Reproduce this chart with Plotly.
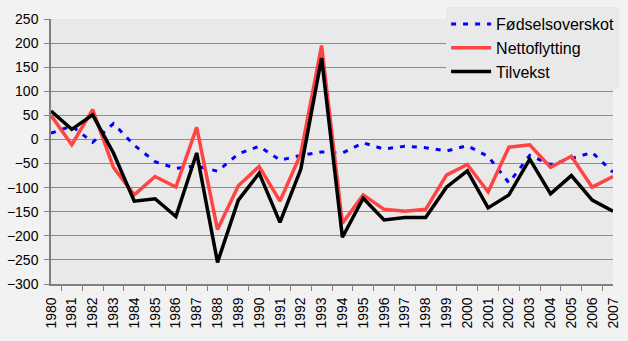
import plotly.graph_objects as go

years = [str(y) for y in range(1980, 2008)]

fodselsoverskot = [13, 28, -6, 33, -12, -46, -60, -55, -66, -30, -14, -43, -33, -26,
                   -28, -7, -20, -14, -17, -24, -13, -35, -90, -33, -52, -40, -27, -68]
nettoflytting = [50, -11, 62, -58, -115, -77, -99, 25, -187, -96, -56, -128, -30, 195,
                 -174, -115, -145, -149, -145, -74, -52, -109, -16, -11, -58, -35, -99, -77]
tilvekst = [59, 21, 51, -28, -128, -123, -160, -28, -255, -126, -70, -172, -62, 169,
            -203, -122, -167, -162, -162, -99, -65, -142, -115, -41, -113, -75, -126, -149]

y_ticks = list(range(-300, 251, 50))

fig = go.Figure()
fig.add_trace(go.Scatter(x=years, y=fodselsoverskot, name="Fødselsoverskot", mode="lines",
                         line=dict(color="#0000ff", width=3, dash="5px,7px")))
fig.add_trace(go.Scatter(x=years, y=nettoflytting, name="Nettoflytting", mode="lines",
                         line=dict(color="#ff4444", width=3.5)))
fig.add_trace(go.Scatter(x=years, y=tilvekst, name="Tilvekst", mode="lines",
                         line=dict(color="#000000", width=3.5)))

fig.update_layout(
    width=628, height=341,
    margin=dict(l=45, r=7, t=14, b=57),
    paper_bgcolor="#f2f2f2",
    plot_bgcolor="#e9e9e9",
    font=dict(family="Liberation Sans, Arial", size=14, color="#000000"),
    showlegend=True,
    legend=dict(x=0.703, y=1.045, xanchor="left", yanchor="top",
                bgcolor="#e9e9e9", borderwidth=0,
                font=dict(size=16), itemwidth=40),
    xaxis=dict(type="category", tickangle=-90, showgrid=False,
               showline=True, linecolor="#808080", linewidth=1.5,
               ticks="outside", ticklen=5, tickcolor="#808080", tickson="boundaries",
               ticklabelstandoff=6, tickfont=dict(size=14)),
    yaxis=dict(range=[-300, 250], tickvals=y_ticks, showgrid=True,
               gridcolor="#8c8c8c", gridwidth=1, zeroline=False,
               showline=True, linecolor="#808080", linewidth=1.5,
               ticks="outside", ticklen=5, tickcolor="#808080",
               ticklabelstandoff=3, tickfont=dict(size=14)),
)

fig.write_html("out.html")
